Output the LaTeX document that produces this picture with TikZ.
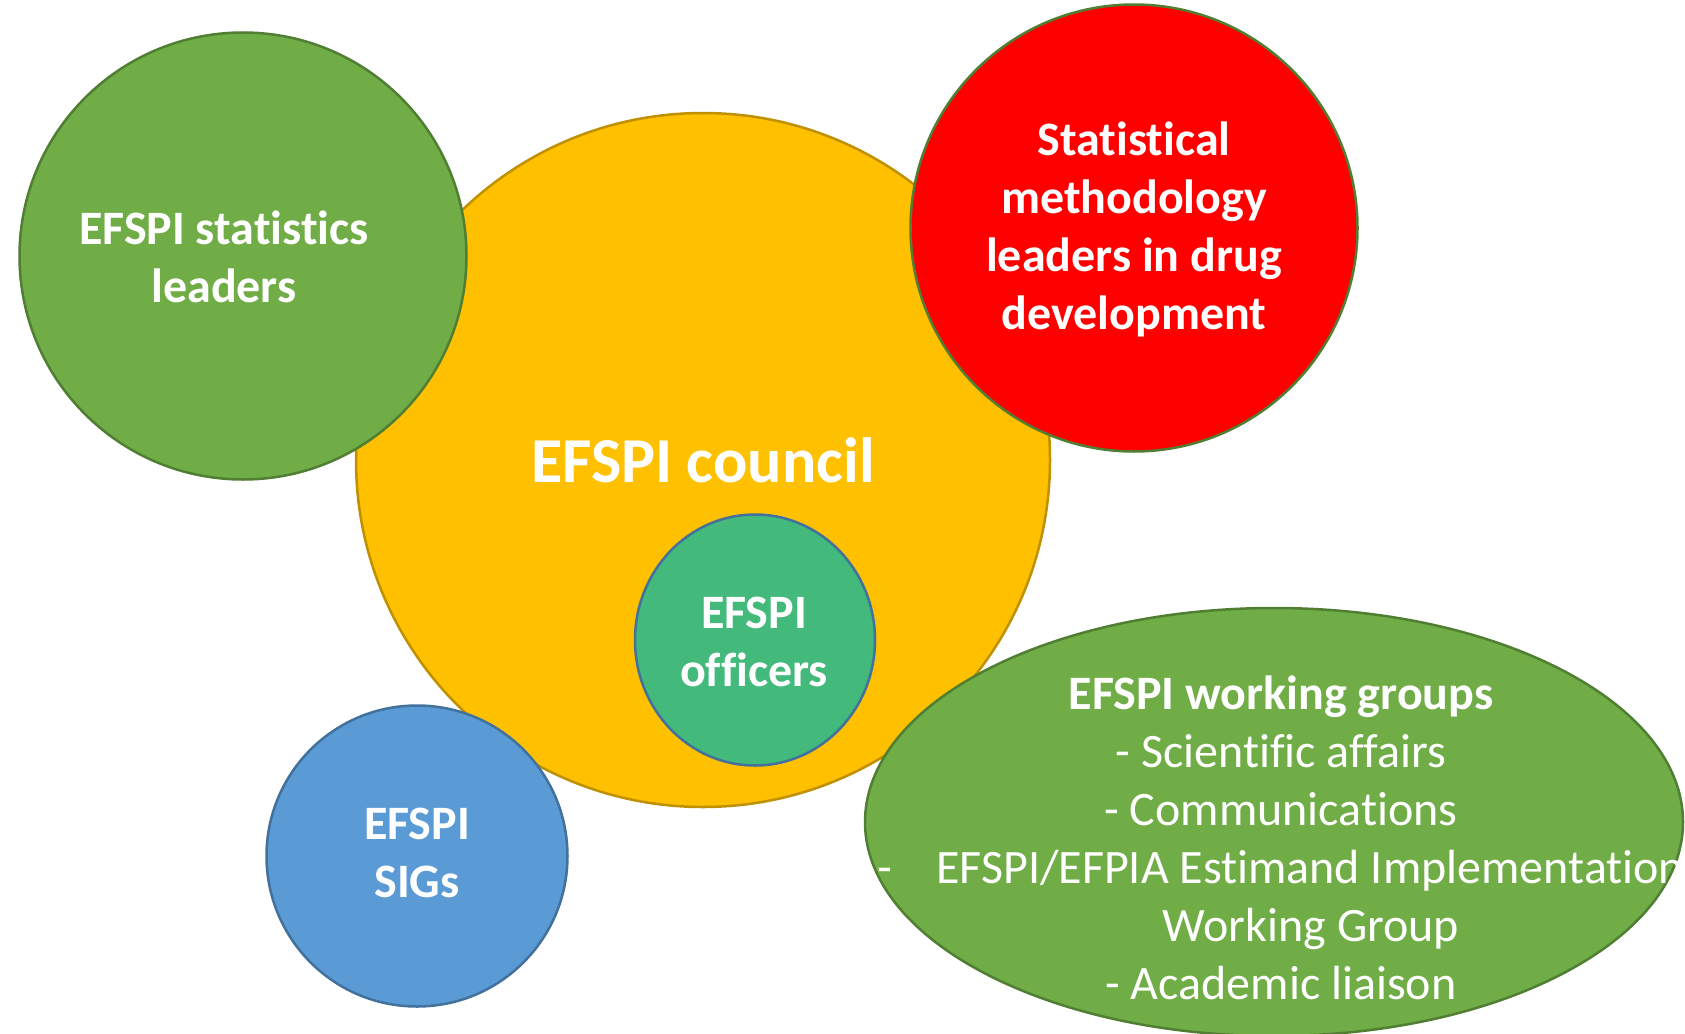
\documentclass[tikz,border=0pt]{standalone}
\usepackage{fontspec}
\setmainfont{Carlito}[Ligatures=NoCommon]
\usepackage{tikz}
\usetikzlibrary{shapes.geometric}
\usetikzlibrary{positioning}

\definecolor{councilyellow}{HTML}{FFC000}
\definecolor{counciledge}{HTML}{BF9000}
\definecolor{leafgreen}{HTML}{70AD47}
\definecolor{leafedge}{HTML}{507E32}
\definecolor{methred}{HTML}{FF0000}
\definecolor{officerteal}{HTML}{44B97C}
\definecolor{sigblue}{HTML}{5B9BD5}
\definecolor{sigedge}{HTML}{41719C}

\tikzset{
  bubble/.style={circle, draw, line width=2.5pt, inner sep=0pt},
  oval/.style={ellipse, draw, line width=2.5pt, inner sep=0pt},
  bubbletext/.style={text=white, align=center, font=\fontsize{48}{58}\selectfont\bfseries},
  listtext/.style={text=white, align=center, font=\fontsize{48}{58}\selectfont},
}

\begin{document}
\begin{tikzpicture}[x=1pt,y=-1pt]
  \useasboundingbox (0,0) rectangle (1685,1033);
  % the circles
  \node(council)[bubble, fill=councilyellow, draw=counciledge, minimum size=694] at (703,460) {};
  \node(leaders)[bubble, fill=leafgreen, draw=leafedge, minimum size=447] at (243,256) {};
  \node(method)[bubble, fill=methred, draw=leafedge, minimum size=447] at (1134,228) {};
  \node(officers)[oval, fill=officerteal, draw=sigedge, minimum width=240, minimum height=251] at (755,640) {};
  \node(sigs)[bubble, fill=sigblue, draw=sigedge, minimum size=301] at (417,856) {};
  \node(groups)[oval, fill=leafgreen, draw=leafedge, minimum width=818, minimum height=428] at (1274,822) {};
  % the texts
  \node(councillabel)[text=white, font=\fontsize{64}{76}\selectfont\bfseries] at (703,460) {EFSPI council};
  \node(leaderslabel)[bubbletext] at (224,257) {EFSPI statistics\\leaders};
  \node(methodlabel)[bubbletext] at (1134,229) {Statistical\\methodology\\leaders in drug\\development};
  \node(officerslabel)[bubbletext] at (754,642) {EFSPI\\officers};
  \node(sigslabel)[bubbletext] at (417,853) {EFSPI\\SIGs};
  \node(groupslabel)[listtext] at (1281,838) {\textbf{EFSPI working groups}\\- Scientific affairs\\- Communications\\-\hspace{44pt}EFSPI/EFPIA Estimand Implementation\\\hspace{60pt}Working Group\\- Academic liaison};
\end{tikzpicture}
\end{document}
